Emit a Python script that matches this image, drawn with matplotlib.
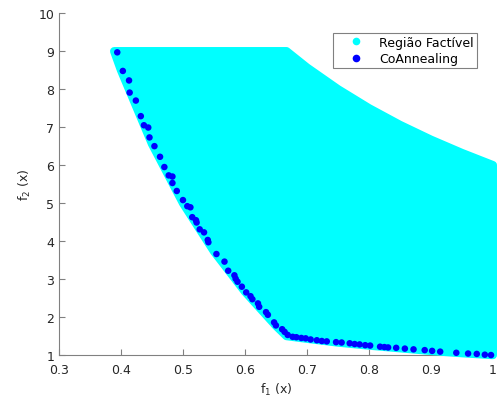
import matplotlib
matplotlib.use('Agg')
import matplotlib.pyplot as plt
from matplotlib.lines import Line2D

# Boundary of the feasible region (f1, f2), traced clockwise from the top-left corner
region_f1 = [0.389, 0.667, 0.70, 0.75, 0.80, 0.85, 0.90, 0.95, 1.00,
             1.00, 0.95, 0.90, 0.85, 0.80, 0.75, 0.70, 0.667,
             0.65, 0.60, 0.55, 0.50, 0.45, 0.40, 0.389]
region_f2 = [9.00, 9.00, 8.57, 8.00, 7.50, 7.06, 6.67, 6.32, 6.00,
             1.00, 1.05, 1.11, 1.18, 1.25, 1.33, 1.43, 1.50,
             1.77, 2.67, 3.73, 5.00, 6.56, 8.50, 9.00]

# CoAnnealing solutions
co_f1 = [0.394, 0.403, 0.413, 0.414, 0.424, 0.432, 0.437, 0.444, 0.446, 0.454,
         0.463, 0.470, 0.477, 0.483, 0.483, 0.490, 0.500, 0.507, 0.512, 0.515,
         0.521, 0.522, 0.527, 0.534, 0.540, 0.541, 0.554, 0.567, 0.573, 0.583,
         0.585, 0.588, 0.595, 0.602, 0.609, 0.612, 0.621, 0.623, 0.634, 0.637,
         0.647, 0.650, 0.660, 0.664, 0.669, 0.677, 0.683, 0.691, 0.698, 0.706,
         0.716, 0.724, 0.732, 0.747, 0.756, 0.769, 0.777, 0.785, 0.794, 0.802,
         0.818, 0.825, 0.831, 0.844, 0.858, 0.872, 0.890, 0.902, 0.915, 0.941,
         0.960, 0.974, 0.987, 0.997]
co_f2 = [8.97, 8.48, 8.23, 7.91, 7.70, 7.29, 7.05, 6.99, 6.73, 6.50,
         6.22, 5.95, 5.73, 5.70, 5.53, 5.32, 5.08, 4.92, 4.89, 4.63,
         4.55, 4.49, 4.31, 4.23, 4.03, 3.97, 3.66, 3.46, 3.22, 3.10,
         3.01, 2.93, 2.80, 2.65, 2.55, 2.47, 2.36, 2.27, 2.13, 2.06,
         1.86, 1.78, 1.68, 1.61, 1.53, 1.48, 1.47, 1.45, 1.44, 1.41,
         1.39, 1.37, 1.36, 1.34, 1.33, 1.31, 1.29, 1.28, 1.26, 1.25,
         1.22, 1.21, 1.20, 1.19, 1.17, 1.15, 1.13, 1.11, 1.09, 1.06,
         1.04, 1.03, 1.01, 1.00]

x_ticks = [0.3, 0.4, 0.5, 0.6, 0.7, 0.8, 0.9, 1.0]
x_tick_labels = ['0.3', '0.4', '0.5', '0.6', '0.7', '0.8', '0.9', '1']
y_ticks = [1, 2, 3, 4, 5, 6, 7, 8, 9, 10]

fig = plt.figure(figsize=(4.97, 4.06), dpi=100)
ax = fig.add_axes([0.1187, 0.123, 0.873, 0.842])

# feasible region: filled area with a thick edge so it looks like a dense cloud of dots
ax.fill(region_f1, region_f2, facecolor='cyan', edgecolor='cyan', linewidth=6,
        joinstyle='round', clip_on=False, zorder=3)
ax.scatter(co_f1, co_f2, s=22, color='blue', edgecolors='none', clip_on=False, zorder=4)

ax.set_xlim(0.3, 1.0)
ax.set_ylim(1, 10)
ax.set_xticks(x_ticks)
ax.set_xticklabels(x_tick_labels)
ax.set_yticks(y_ticks)

ax.spines['top'].set_visible(False)
ax.spines['right'].set_visible(False)
for s in ['left', 'bottom']:
    ax.spines[s].set_color('#808080')
    ax.spines[s].set_linewidth(0.8)
ax.tick_params(direction='in', length=4, width=0.8, color='#808080',
               labelcolor='#262626', labelsize=9)
ax.tick_params(axis='x', pad=6)

ax.set_xlabel(r'f$_1$ (x)', fontsize=9, color='#262626', labelpad=3)
ax.set_ylabel(r'f$_2$ (x)', fontsize=9, color='#262626')

handles = [Line2D([], [], linestyle='none', marker='o', markersize=5.5,
                  markerfacecolor='cyan', markeredgecolor='none'),
           Line2D([], [], linestyle='none', marker='o', markersize=5.5,
                  markerfacecolor='blue', markeredgecolor='none')]
leg = ax.legend(handles, ['Região Factível', 'CoAnnealing'], loc='upper right',
                bbox_to_anchor=(0.963, 0.942), borderaxespad=0, fontsize=9,
                fancybox=False, framealpha=1, edgecolor='#808080',
                handlelength=3.2, handletextpad=0.3, borderpad=0.22,
                labelspacing=0.28)
leg.get_frame().set_linewidth(0.8)
leg.set_zorder(5)

fig.savefig('out.png', dpi=100)
